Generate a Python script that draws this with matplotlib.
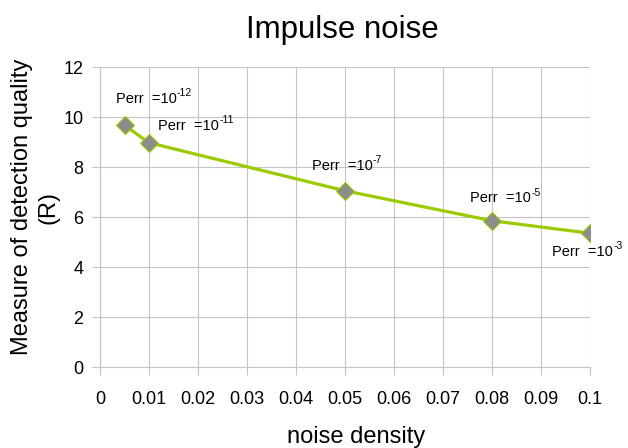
import matplotlib.pyplot as plt

plt.rcParams['font.family'] = ['Liberation Sans', 'DejaVu Sans']

# data
noise_density = [0.005, 0.01, 0.05, 0.08, 0.1]
quality_r = [9.67, 8.97, 7.05, 5.85, 5.35]
perr_exponents = ['-12', '-11', '-7', '-5', '-3']

# label anchor points (left, baseline) in data coords
label_x = [0.0032, 0.0118, 0.0432, 0.0756, 0.0923]
label_y = [10.56, 9.48, 7.88, 6.59, 4.45]

x_ticks = [0, 0.01, 0.02, 0.03, 0.04, 0.05, 0.06, 0.07, 0.08, 0.09, 0.1]
x_tick_labels = ['0', '0.01', '0.02', '0.03', '0.04', '0.05', '0.06', '0.07', '0.08', '0.09', '0.1']
y_ticks = [0, 2, 4, 6, 8, 10, 12]

grid_color = '#c4c4c4'

fig = plt.figure(figsize=(6.28, 4.48), dpi=100)
ax = fig.add_axes([100 / 628, 81 / 448, 490 / 628, 300 / 448])

ax.plot(noise_density, quality_r, '-', color='#99cc00', linewidth=2.3,
        marker='D', markersize=9.5, markerfacecolor='#8c8c8c',
        markeredgecolor='#99cc00', markeredgewidth=0.8, zorder=3)

for x, y, e in zip(label_x, label_y, perr_exponents):
    t = ax.text(x, y, 'Perr  =10', fontsize=10.5, ha='left', va='baseline',
                color='black', zorder=4)
    # superscript as plain text so the minus stays a hyphen
    ax.annotate(e, xy=(1, 1), xycoords=t, xytext=(0.3, -4.5),
                textcoords='offset points', fontsize=7.5, ha='left', va='bottom',
                zorder=4)

ax.set_xlim(0, 0.1)
ax.set_ylim(0, 12)
ax.set_xticks(x_ticks)
ax.set_xticklabels(x_tick_labels)
ax.set_yticks(y_ticks)
ax.grid(True, color=grid_color, linewidth=0.8)
ax.set_axisbelow(True)

for side in ['top', 'right']:
    ax.spines[side].set_visible(False)
for side in ['left', 'bottom']:
    ax.spines[side].set_color(grid_color)
    ax.spines[side].set_linewidth(0.8)

ax.tick_params(axis='x', direction='out', length=6, width=0.8, color=grid_color,
               pad=11, labelsize=13)
ax.tick_params(axis='y', direction='out', length=6, width=0.8, color=grid_color,
               pad=6, labelsize=13)

fig.text(356 / 628, 1 - 437 / 448, 'noise density', fontsize=17, ha='center', va='center')
fig.text(35 / 628, 1 - 207 / 448, 'Measure of detection quality\n(R)', fontsize=17,
         rotation=90, ha='center', va='center', linespacing=1.27, multialignment='center')
fig.text(342 / 628, 1 - 30 / 448, 'Impulse noise', fontsize=22.5, ha='center', va='center')

fig.savefig('out.png', dpi=100)
